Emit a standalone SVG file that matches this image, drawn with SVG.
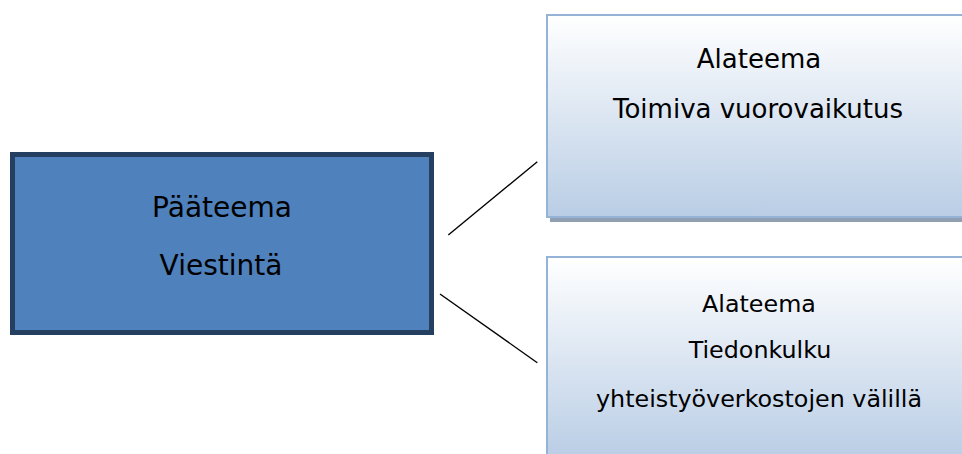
<svg xmlns="http://www.w3.org/2000/svg" width="962" height="454" viewBox="0 0 962 454">
<style>
text{font-family:"DejaVu Sans","Noto Sans",sans-serif;fill:#000;text-anchor:middle}
.main{font-size:28px}
.t1{font-size:26px}
.t2{font-size:23.8px}
.sub{fill:url(#g);stroke:#95B3D7;stroke-width:2}
.shadow{fill:#909FB2}
.conn{stroke:#000;stroke-width:1.4;fill:none}
</style>
<defs>
<linearGradient id="g" x1="0" y1="0" x2="0" y2="1">
<stop offset="0" stop-color="#FFFFFF"/>
<stop offset="1" stop-color="#B9CDE5"/>
</linearGradient>
</defs>
<rect width="962" height="454" fill="#fff"/>
<g id="connectors">
<line class="conn" x1="448.3" y1="235" x2="537.3" y2="161.7"/>
<line class="conn" x1="440" y1="294" x2="537.3" y2="362.7"/>
</g>
<g id="main">
<rect x="12.5" y="154.5" width="419" height="178" fill="#4F81BD" stroke="#243F60" stroke-width="5"/>
<text class="main" x="222" y="217">Pääteema</text>
<text class="main" x="221" y="275">Viestintä</text>
</g>
<g id="sub1">
<rect class="shadow" x="550" y="19" width="420" height="203"/>
<rect class="sub" x="547" y="15" width="420" height="202"/>
<text class="t1" x="759" y="68">Alateema</text>
<text class="t1" x="758" y="118">Toimiva vuorovaikutus</text>
</g>
<g id="sub2">
<rect class="shadow" x="550" y="261" width="420" height="203"/>
<rect class="sub" x="547" y="257" width="420" height="202"/>
<text class="t2" x="759" y="312">Alateema</text>
<text class="t2" x="760" y="358">Tiedonkulku</text>
<text class="t2" x="759" y="407">yhteistyöverkostojen välillä</text>
</g>
</svg>
